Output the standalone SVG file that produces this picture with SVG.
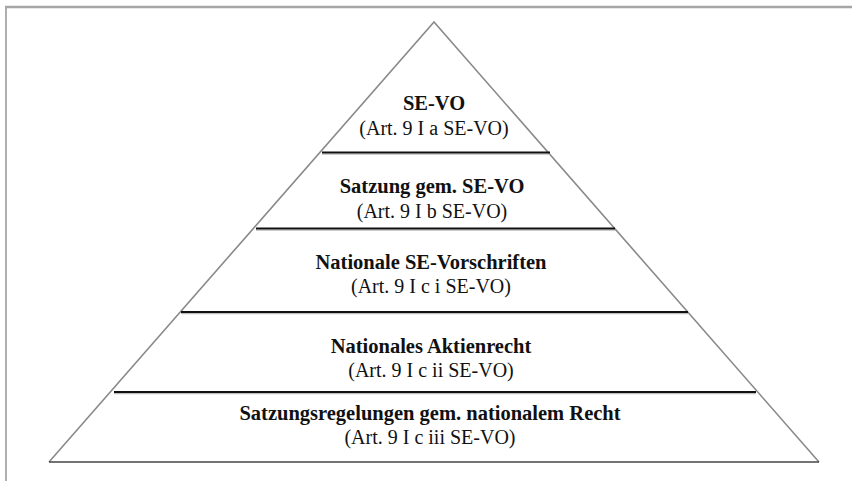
<svg xmlns="http://www.w3.org/2000/svg" width="852" height="483" viewBox="0 0 852 483">
<style>
.frame{stroke:#a6a6a6;fill:none}
.side{stroke:#8a8a8a;stroke-width:1.6;fill:none}
.base{stroke:#444;stroke-width:1.6;fill:none}
.sep{stroke:#111;stroke-width:2.2}
.shadow{stroke:#bdbdbd;stroke-width:1.2}
text{font-family:"Liberation Serif","Times New Roman",serif;font-size:20px;fill:#111;text-anchor:middle}
.b{font-weight:bold;font-size:20.5px}
</style>
<rect width="852" height="483" fill="#fff"/>
<g id="frame">
<line class="frame" x1="5" y1="7" x2="852" y2="7" stroke-width="2.4"/>
<line class="frame" x1="6" y1="6" x2="6" y2="481" stroke-width="1.8"/>
</g>
<g id="pyramid">
<polyline class="side" points="49,462 434,22 819,462"/>
<line class="base" x1="49" y1="462" x2="819" y2="462"/>
</g>
<g id="connectors">
<line class="shadow" x1="322" y1="154.2" x2="550" y2="154.2"/>
<line class="sep" x1="322" y1="152.5" x2="550" y2="152.5"/>
<line class="shadow" x1="256" y1="230.2" x2="615" y2="230.2"/>
<line class="sep" x1="256" y1="228.5" x2="615" y2="228.5"/>
<line class="shadow" x1="181" y1="313.7" x2="688" y2="313.7"/>
<line class="sep" x1="181" y1="312" x2="688" y2="312"/>
<line class="shadow" x1="114" y1="393.7" x2="756" y2="393.7"/>
<line class="sep" x1="114" y1="392" x2="756" y2="392"/>
</g>
<g id="level1">
<text class="b" x="434" y="110">SE-VO</text>
<text x="434" y="135">(Art. 9 I a SE-VO)</text>
</g>
<g id="level2">
<text class="b" x="432" y="193">Satzung gem. SE-VO</text>
<text x="432" y="218">(Art. 9 I b SE-VO)</text>
</g>
<g id="level3">
<text class="b" x="431" y="269">Nationale SE-Vorschriften</text>
<text x="431" y="293">(Art. 9 I c i SE-VO)</text>
</g>
<g id="level4">
<text class="b" x="431" y="353">Nationales Aktienrecht</text>
<text x="431" y="377">(Art. 9 I c ii SE-VO)</text>
</g>
<g id="level5">
<text class="b" x="430" y="420">Satzungsregelungen gem. nationalem Recht</text>
<text x="430" y="444">(Art. 9 I c iii SE-VO)</text>
</g>
</svg>
